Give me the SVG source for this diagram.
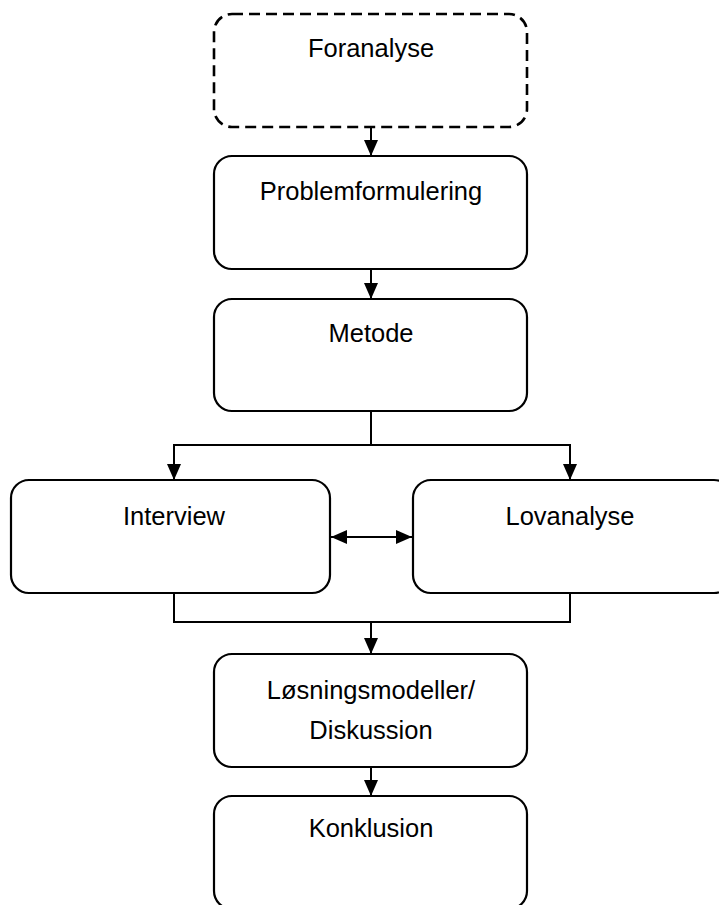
<svg xmlns="http://www.w3.org/2000/svg" width="719" height="905" viewBox="0 0 719 905">
<style>
.box{fill:#fff;stroke:#000;stroke-width:2.2}
.dash{stroke-dasharray:11 6;stroke-width:2.6}
.t{font-family:"Liberation Sans",Arial,sans-serif;font-size:25.5px;fill:#000;text-anchor:middle}
.c{fill:none;stroke:#000;stroke-width:2}
</style>
<defs>
<marker id="ah" viewBox="0 0 16 14" refX="16" refY="7" markerWidth="16" markerHeight="14" markerUnits="userSpaceOnUse" orient="auto-start-reverse">
<path d="M0,0 L16,7 L0,14 Z" fill="#000"/>
</marker>
</defs>
<rect width="719" height="905" fill="#fff"/>
<g id="connectors">
<path class="c" d="M371,127 V156" marker-end="url(#ah)"/>
<path class="c" d="M371,269 V299" marker-end="url(#ah)"/>
<path class="c" d="M371,411 V445"/>
<path class="c" d="M174,480 V445 H570 V480" marker-start="url(#ah)" marker-end="url(#ah)"/>
<path class="c" d="M331,537 H412" marker-start="url(#ah)" marker-end="url(#ah)"/>
<path class="c" d="M174,593 V622 H570 V593"/>
<path class="c" d="M371,622 V654" marker-end="url(#ah)"/>
<path class="c" d="M371,767 V796" marker-end="url(#ah)"/>
</g>
<g id="foranalyse">
<rect class="box dash" x="214" y="14" width="313" height="113" rx="18"/>
<text class="t" x="371" y="57">Foranalyse</text>
</g>
<g id="problemformulering">
<rect class="box" x="214" y="156" width="313" height="113" rx="18"/>
<text class="t" x="371" y="200">Problemformulering</text>
</g>
<g id="metode">
<rect class="box" x="214" y="299" width="313" height="112" rx="18"/>
<text class="t" x="371" y="342">Metode</text>
</g>
<g id="interview">
<rect class="box" x="11" y="480" width="319" height="113" rx="18"/>
<text class="t" x="174" y="525">Interview</text>
</g>
<g id="lovanalyse">
<rect class="box" x="413" y="480" width="319" height="113" rx="18"/>
<text class="t" x="570" y="525">Lovanalyse</text>
</g>
<g id="losningsmodeller">
<rect class="box" x="214" y="654" width="313" height="113" rx="18"/>
<text class="t" x="371" y="699">Løsningsmodeller/</text>
<text class="t" x="371" y="739">Diskussion</text>
</g>
<g id="konklusion">
<rect class="box" x="214" y="796" width="313" height="113" rx="18"/>
<text class="t" x="371" y="837">Konklusion</text>
</g>
</svg>
